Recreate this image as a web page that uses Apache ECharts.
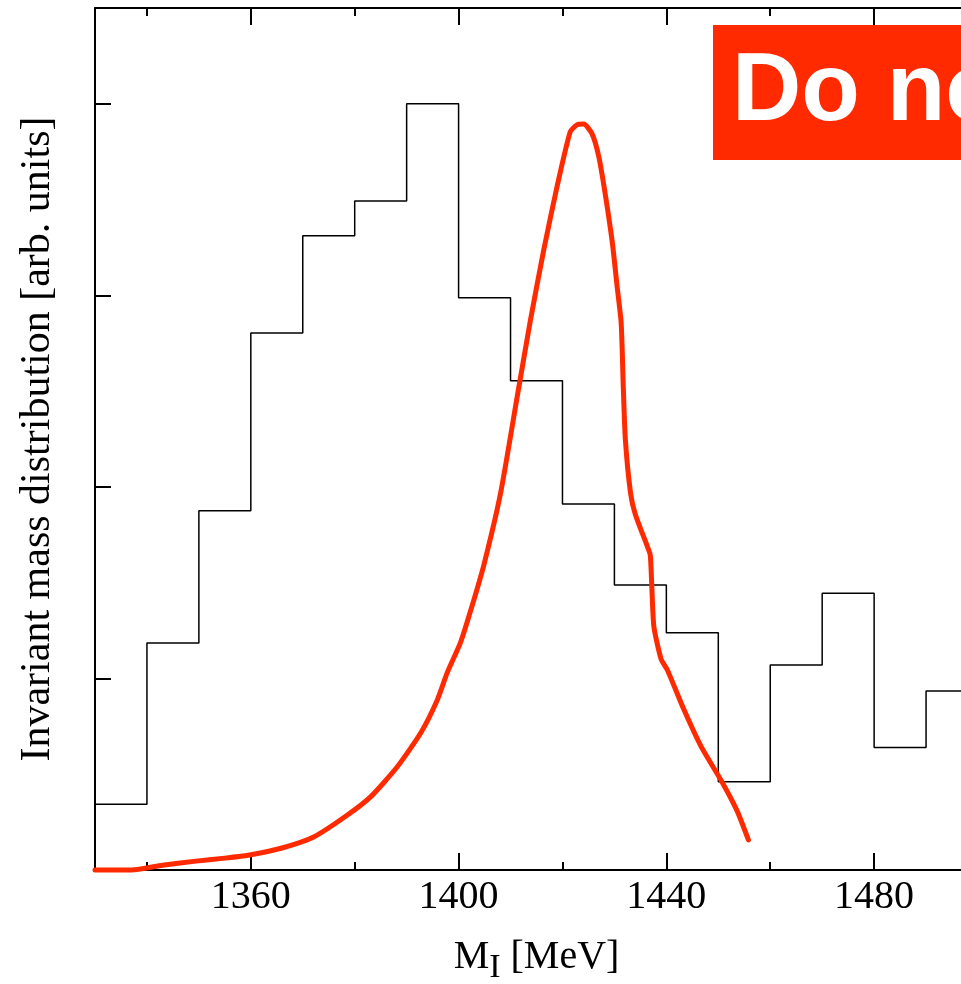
<!DOCTYPE html>
<html>
<head>
<meta charset="utf-8">
<title>Invariant mass distribution</title>
<script src="https://cdn.jsdelivr.net/npm/echarts@6/dist/echarts.min.js"></script>
<style>
  html, body { margin: 0; padding: 0; background: #fff; }
  #main { width: 961px; height: 984px; }
</style>
</head>
<body>
<div id="main"></div>
<script>
// histogram: left edge of each 10 MeV bin and its height
var binStart = [1330, 1340, 1350, 1360, 1370, 1380, 1390, 1400, 1410, 1420, 1430, 1440, 1450, 1460, 1470, 1480, 1490];
var binEnd = 1500;
var binValue = [0.343, 1.185, 1.875, 2.804, 3.311, 3.493, 4.0, 2.987, 2.554, 1.911, 1.488, 1.238, 0.461, 1.070, 1.445, 0.639, 0.935];

// red curve, [M, value]
var curveM = [1330, 1337, 1343, 1349, 1355, 1360, 1366, 1372.2, 1378.6, 1383.1, 1388.2, 1392.7, 1395.9, 1397.8, 1400.4, 1402.5,
  1404.9, 1408.1, 1411.3, 1413.8, 1416.4, 1419, 1421.5, 1422.8, 1424.1, 1425.7, 1427, 1428.3, 1429.6, 1430.5,
  1431.3, 1431.7, 1432.1, 1433.1, 1434, 1436.3, 1436.9, 1437.2, 1437.6, 1439, 1440.2, 1443.4, 1446.7, 1450.5, 1453.6, 1455.8];
var curveV = [0, 0, 0.025, 0.045, 0.062, 0.08, 0.115, 0.174, 0.287, 0.383, 0.539, 0.715, 0.888, 1.029, 1.19, 1.37,
  1.596, 1.969, 2.473, 2.865, 3.238, 3.573, 3.854, 3.89, 3.894, 3.843, 3.723, 3.517, 3.275, 3.051,
  2.856, 2.529, 2.25, 1.969, 1.859, 1.692, 1.645, 1.479, 1.27, 1.1, 1.044, 0.836, 0.644, 0.47, 0.31, 0.157];

var majorTicks = [1360, 1400, 1440, 1480];
var minorTicks = [1340, 1380, 1420, 1460, 1500];
var yTicks = [1, 2, 3, 4];

var histData = [];
for (var i = 0; i < binStart.length; i++) {
    histData.push([binStart[i], binValue[i]]);
}
histData.push([binEnd, binValue[binValue.length - 1]]);

var curveData = [];
for (var j = 0; j < curveM.length; j++) {
    curveData.push([curveM[j], curveV[j]]);
}

var serif = 'Liberation Serif';

function xAx(pos, ticks, len, showLine, showLabel) {
    return {
        type: 'value',
        position: pos,
        min: 1330,
        max: 1500,
        axisLine: { show: showLine, lineStyle: { color: '#000', width: 2 } },
        axisTick: { show: true, inside: true, length: len, customValues: ticks, lineStyle: { color: '#000', width: 2 } },
        axisLabel: {
            show: showLabel, customValues: ticks, margin: 7, color: '#000', fontFamily: serif, fontSize: 40,
            formatter: function (v) { return String(v); }
        },
        splitLine: { show: false }
    };
}

var xMain = xAx('bottom', majorTicks, 17, true, true);
xMain.name = '{a|M}{s|I}{a| [MeV]}';
xMain.nameLocation = 'middle';
xMain.nameGap = 67;
xMain.nameTextStyle = {
    rich: {
        a: { fontFamily: serif, fontSize: 40, lineHeight: 44, verticalAlign: 'top', color: '#000' },
        s: { fontFamily: serif, fontSize: 34, lineHeight: 44, verticalAlign: 'top', padding: [14, 0, 0, 0], color: '#000' }
    }
};

function yAx(pos, withName) {
    var ax = {
        type: 'value',
        position: pos,
        min: 0,
        max: 4.5,
        axisLine: { show: true, lineStyle: { color: '#000', width: 2 } },
        axisTick: { show: true, inside: true, length: 16, customValues: yTicks, lineStyle: { color: '#000', width: 2 } },
        axisLabel: { show: false },
        splitLine: { show: false }
    };
    if (withName) {
        ax.name = 'Invariant mass distribution [arb. units]';
        ax.nameLocation = 'middle';
        ax.nameGap = 36;
        ax.nameTextStyle = { fontFamily: serif, fontSize: 42, color: '#000' };
    }
    return ax;
}

var myChart = echarts.init(document.getElementById('main'));
var option = {
    backgroundColor: '#fff',
    animation: false,
    // plot runs past the right edge of the picture (x max 1500 sits at ~978px)
    grid: { left: 95, top: 8, width: 883, height: 862, containLabel: false, outerBoundsMode: 'none' },
    xAxis: [
        xMain,
        xAx('bottom', minorTicks, 8, false, false),
        xAx('top', majorTicks, 17, true, false),
        xAx('top', minorTicks, 8, false, false)
    ],
    yAxis: [yAx('left', true), yAx('right', false)],
    graphic: [{
        type: 'group',
        left: 713,
        top: 25,
        children: [{
            type: 'rect',
            shape: { x: 0, y: 0, width: 320, height: 135 },
            style: { fill: '#ff2a00' }
        }, {
            type: 'text',
            x: 19,
            y: 69,
            style: {
                text: 'Do not copy',
                fill: '#fff',
                font: 'bold 96px "Liberation Sans"',
                verticalAlign: 'middle'
            }
        }]
    }],
    series: [{
        type: 'line',
        data: histData,
        step: 'end',
        symbol: 'none',
        lineStyle: { color: '#000', width: 1.5 },
        z: 2
    }, {
        type: 'line',
        data: curveData,
        symbol: 'none',
        clip: false,
        smooth: 0.2,
        lineStyle: { color: '#ff2a00', width: 5, cap: 'round', join: 'round' },
        z: 3
    }]
};
myChart.setOption(option);
</script>
</body>
</html>
